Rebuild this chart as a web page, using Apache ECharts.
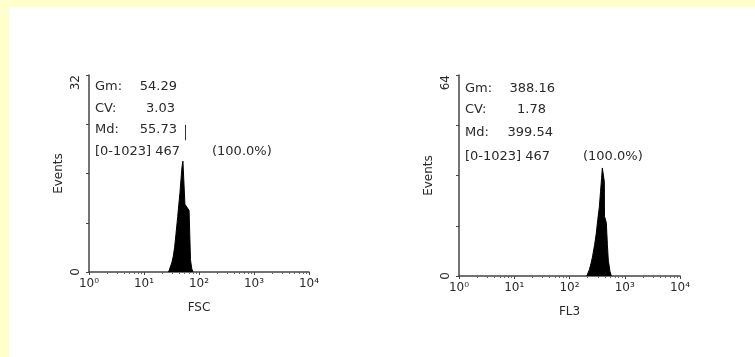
<!DOCTYPE html>
<html>
<head>
<meta charset="utf-8">
<script src="https://cdn.jsdelivr.net/npm/echarts@6/dist/echarts.min.js"></script>
<style>
  html, body { margin: 0; padding: 0; background: #fff; }
  #frame { position: absolute; left: 0; top: 0; width: 755px; height: 357px; background: #ffffcc; }
  #chart { position: absolute; left: 9px; top: 7px; width: 746px; height: 350px; background: #fff; }
</style>
</head>
<body>
<div id="frame"></div>
<div id="chart"></div>
<script>
// FSC histogram: [channel value, events]
const fscHist = [
  [28, 0], [29, 0.3], [32, 1.5], [34, 2.5], [36, 4], [38, 6], [41, 9], [43, 11],
  [45, 12.8], [47, 15], [49, 17], [51, 18], [55, 18], [55.5, 11], [60, 10.8],
  [66, 10], [68, 6], [70, 2], [74, 0.5], [78, 0]
]
// FL3 histogram
const fl3Hist = [
  [205, 0], [211, 0.5], [229, 2], [245, 4], [260, 6], [285, 10], [306, 13.7],
  [325, 18], [347, 22], [365, 27], [380, 31], [393, 34.4], [410, 34], [427, 30],
  [430, 19], [464, 17], [485, 10], [504, 5], [540, 1.5], [571, 0]
]
const fscStats = { gm: '54.29', cv: '3.03', md: '55.73', range: '[0-1023] 467', pct: '(100.0%)' }
const fl3Stats = { gm: '388.16', cv: '1.78', md: '399.54', range: '[0-1023] 467', pct: '(100.0%)' }
const fscMedian = 55.73
const yMax = [32, 64]
const yStep = [8, 16]
const axisNames = ['FSC', 'FL3']

const sup = ['\u2070', '\u00b9', '\u00b2', '\u00b3', '\u2074']
const font = 'DejaVu Sans'
const ink = '#2a2a2a'

const chart = echarts.init(document.getElementById('chart'))

// the chart div sits at (9,7) on the page
const ox = 9, oy = 7
function txt(x, y, s, align) {
  return {
    type: 'text', x: x - ox, y: y - oy,
    style: { text: s, font: '13px "' + font + '"', fill: ink, textAlign: align || 'left', textVerticalAlign: 'middle' }
  }
}
function statsBlock(st, lx, vx, px, rows) {
  return [
    txt(lx, rows[0], 'Gm:'), txt(vx[0], rows[0], st.gm, 'right'),
    txt(lx, rows[1], 'CV:'), txt(vx[1], rows[1], st.cv, 'right'),
    txt(lx, rows[2], 'Md:'), txt(vx[2], rows[2], st.md, 'right'),
    txt(lx, rows[3], st.range), txt(px, rows[3], st.pct)
  ]
}

function xAxisOf(i) {
  return {
    type: 'log', logBase: 10, min: 1, max: 10000, gridIndex: i,
    name: axisNames[i], nameLocation: 'middle', nameGap: 30,
    nameTextStyle: { fontFamily: font, fontSize: 12, color: ink },
    axisLine: { lineStyle: { color: '#444', width: 1.5 } },
    axisTick: { show: true, length: 3, lineStyle: { color: '#444' } },
    minorTick: { show: true, splitNumber: 8, length: 2, lineStyle: { color: '#666' } },
    splitLine: { show: false },
    axisLabel: {
      fontFamily: font, fontSize: 12, color: ink, margin: 6,
      formatter: v => '10' + sup[Math.round(Math.log10(v))]
    }
  }
}
function yAxisOf(i) {
  return {
    type: 'value', min: 0, max: yMax[i], interval: yStep[i], gridIndex: i,
    name: 'Events', nameLocation: 'middle', nameGap: 24,
    nameTextStyle: { fontFamily: font, fontSize: 12, color: ink },
    axisLine: { show: true, lineStyle: { color: '#444', width: 1.5 } },
    axisTick: { show: true, length: 3, lineStyle: { color: '#444' } },
    splitLine: { show: false },
    axisLabel: {
      fontFamily: font, fontSize: 12, color: ink, rotate: 90, margin: 7,
      alignMaxLabel: 'right',
      formatter: v => (v === 0 || v === yMax[i]) ? String(v) : ''
    }
  }
}
function histSeries(i, data) {
  return {
    type: 'line', xAxisIndex: i, yAxisIndex: i, data,
    symbol: 'none', silent: true,
    lineStyle: { color: '#000', width: 1 },
    areaStyle: { color: '#000', opacity: 1 }
  }
}

const s0 = histSeries(0, fscHist)
s0.markLine = {
  symbol: 'none', silent: true, label: { show: false },
  lineStyle: { color: '#333', width: 1, type: 'solid' },
  data: [[{ coord: [fscMedian, 21.4] }, { coord: [fscMedian, 23.9] }]]
}

chart.setOption({
  animation: false,
  grid: [
    { left: 89 - ox, top: 75 - oy, width: 220, height: 197 },
    { left: 459 - ox, top: 75 - oy, width: 221, height: 201 }
  ],
  xAxis: [xAxisOf(0), xAxisOf(1)],
  yAxis: [yAxisOf(0), yAxisOf(1)],
  series: [s0, histSeries(1, fl3Hist)],
  graphic: [
    ...statsBlock(fscStats, 95, [177, 175, 177], 212, [87, 109, 130, 152]),
    ...statsBlock(fl3Stats, 465, [555, 546, 553], 583, [89, 110, 133, 157])
  ]
})
</script>
</body>
</html>
